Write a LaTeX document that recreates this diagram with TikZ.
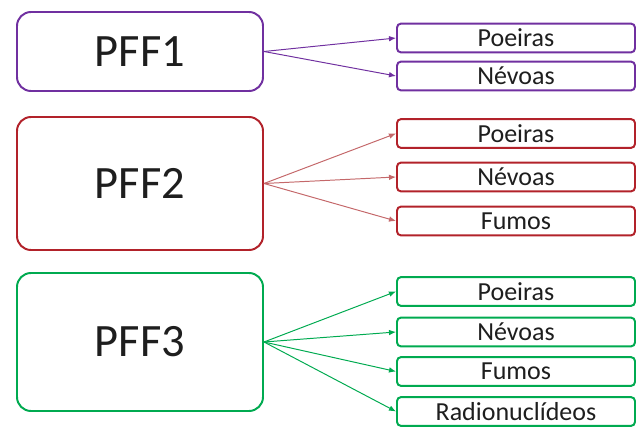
\documentclass[tikz,border=0pt]{standalone}
\usepackage{fontspec}
\setmainfont{Carlito}
\usetikzlibrary{arrows.meta}
\definecolor{pffpurple}{RGB}{112,48,160}
\definecolor{pffred}{RGB}{178,34,42}
\definecolor{pffredlink}{RGB}{196,104,106}
\definecolor{pffgreen}{RGB}{0,170,80}
\definecolor{pfftext}{RGB}{30,30,30}
\tikzset{
  pffbox/.style={rectangle, draw=#1, line width=1.4pt, rounded corners=0.35cm, minimum width=6.15cm, text=pfftext, font=\fontsize{33}{36}\selectfont},
  itembox/.style={rectangle, draw=#1, line width=1.4pt, rounded corners=0.1cm, minimum width=5.95cm, minimum height=0.72cm, inner sep=0pt, text=pfftext, font=\fontsize{18.5}{20}\selectfont},
  link/.style={draw=#1, line width=0.7pt, -{Latex[length=5pt,width=4pt]}}
}
\begin{document}
\begin{tikzpicture}
  \useasboundingbox (0,0) rectangle (15.95,10.85);
  % PFF1
  \node[pffbox=pffpurple, minimum height=1.975cm] (pff1) at (3.5,9.5625) {PFF1};
  \node[itembox=pffpurple] (pff1a) at (12.9,9.9) {Poeiras};
  \node[itembox=pffpurple] (pff1b) at (12.9,8.95) {Névoas};
  \foreach \i in {a,b} \draw[link=pffpurple] (pff1.east) -- (pff1\i.west);
  % PFF2
  \node[pffbox=pffred, minimum height=3.325cm] (pff2) at (3.5,6.2625) {PFF2};
  \node[itembox=pffred] (pff2a) at (12.9,7.5125) {Poeiras};
  \node[itembox=pffred] (pff2b) at (12.9,6.425) {Névoas};
  \node[itembox=pffred] (pff2c) at (12.9,5.325) {Fumos};
  \foreach \i in {a,b,c} \draw[link=pffredlink] (pff2.east) -- (pff2\i.west);
  % PFF3
  \node[pffbox=pffgreen, minimum height=3.45cm] (pff3) at (3.5,2.3) {PFF3};
  \node[itembox=pffgreen] (pff3a) at (12.9,3.5625) {Poeiras};
  \node[itembox=pffgreen] (pff3b) at (12.9,2.55) {Névoas};
  \node[itembox=pffgreen] (pff3c) at (12.9,1.5625) {Fumos};
  \node[itembox=pffgreen] (pff3d) at (12.9,0.5625) {Radionuclídeos};
  \foreach \i in {a,b,c,d} \draw[link=pffgreen] (pff3.east) -- (pff3\i.west);
\end{tikzpicture}
\end{document}
